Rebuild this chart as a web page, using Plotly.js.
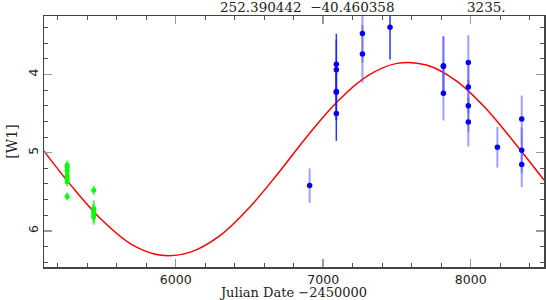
<!DOCTYPE html>
<html>
<head>
<meta charset="utf-8">
<script src="https://cdn.plot.ly/plotly-3.0.1.min.js"></script>
<style>
  html, body { margin: 0; padding: 0; background: #fff; }
  #chart { width: 546px; height: 300px; }
</style>
</head>
<body>
<div id="chart"></div>
<script>
// W1 light curve, ra/dec and period from the header line
const raDec = '252.390442  \u221240.460358';
const period = '3235.';

// early epochs (green)
const greenJd  = [5264, 5264, 5264, 5264, 5264, 5264, 5264, 5444, 5444, 5444, 5444, 5444];
const greenMag = [5.16, 5.19, 5.23, 5.29, 5.33, 5.37, 5.56, 5.48, 5.71, 5.75, 5.79, 5.82];
const greenErr = [0.06, 0.06, 0.06, 0.06, 0.06, 0.06, 0.05, 0.06, 0.10, 0.10, 0.10, 0.10];

// later epochs, darker error bars
const darkJd  = [7089, 7089, 7089, 7089, 7089, 7453];
const darkMag = [3.87, 3.94, 4.22, 4.23, 4.50, 3.40];
const darkErr = [0.39, 0.38, 0.36, 0.36, 0.35, 0.41];

// later epochs, lighter error bars
const lightJd  = [6908, 7266, 7266, 7815, 7815, 7815, 7984, 7984, 7984, 7984, 8181, 8346, 8346, 8346];
const lightMag = [5.42, 3.48, 3.74, 3.89, 3.90, 4.24, 3.85, 4.16, 4.40, 4.61, 4.93, 4.57, 4.97, 5.15];
const lightErr = [0.22, 0.37, 0.37, 0.38, 0.38, 0.35, 0.35, 0.33, 0.33, 0.31, 0.26, 0.30, 0.29, 0.29];

// fitted curve
const fitJd  = [5107, 5300, 5500, 5700, 5900, 6100, 6300, 6500, 6700, 6900, 7100, 7300, 7500, 7700, 7900, 8100, 8300, 8497];
const fitMag = [4.98, 5.44, 5.86, 6.17, 6.31, 6.27, 6.06, 5.70, 5.25, 4.77, 4.34, 4.02, 3.86, 3.88, 4.08, 4.43, 4.88, 5.35];

const serif = 'DejaVu Serif, Liberation Serif, serif';
const sans = 'DejaVu Sans, Liberation Sans, sans-serif';

function errBars(arr, color, thick) {
    return { type: 'data', array: arr, visible: true, color: color, thickness: thick, width: 0 };
}

const data = [
    {
        x: fitJd, y: fitMag, mode: 'lines',
        line: { color: '#ff0000', width: 1.5, shape: 'spline', smoothing: 1 },
        hoverinfo: 'skip'
    },
    {
        x: greenJd, y: greenMag, mode: 'markers',
        marker: { color: '#00ff00', size: 5 },
        error_y: errBars(greenErr, 'rgba(0,230,0,0.6)', 2)
    },
    {
        x: lightJd, y: lightMag, mode: 'markers',
        marker: { color: '#0000ff', size: 5.5 },
        error_y: errBars(lightErr, 'rgba(80,80,255,0.55)', 2)
    },
    {
        x: darkJd, y: darkMag, mode: 'markers',
        marker: { color: '#0000ff', size: 5.5 },
        error_y: errBars(darkErr, 'rgba(30,30,255,0.9)', 1.5)
    }
];

const axisCommon = {
    showgrid: false,
    zeroline: false,
    showline: true,
    linecolor: '#444',
    linewidth: 1.5,
    mirror: 'ticks',
    ticks: 'inside',
    ticklen: 8,
    tickcolor: '#999',
    tickwidth: 1.5,
    tickfont: { family: sans, size: 12.5, color: '#222' }
};

const layout = {
    width: 546,
    height: 300,
    margin: { l: 44, r: 2, t: 16, b: 33 },
    paper_bgcolor: '#fff',
    plot_bgcolor: '#fff',
    showlegend: false,
    xaxis: Object.assign({}, axisCommon, {
        range: [5107, 8497],
        tick0: 6000,
        dtick: 1000,
        minor: { dtick: 200, ticks: 'inside', ticklen: 4, tickcolor: '#555', tickwidth: 1 },
        title: { text: 'Julian Date \u22122450000', font: { family: serif, size: 13, color: '#222' }, standoff: 0 }
    }),
    yaxis: Object.assign({}, axisCommon, {
        range: [6.46, 3.255],
        tick0: 4,
        dtick: 1,
        tickangle: -90,
        minor: { dtick: 0.2, ticks: 'inside', ticklen: 4, tickcolor: '#555', tickwidth: 1 },
        title: { text: '[W1]', font: { family: serif, size: 14, color: '#222' }, standoff: 4 }
    }),
    annotations: [
        {
            text: raDec, xref: 'paper', yref: 'paper', x: 0.705, y: 1.0637, yshift: 3,
            xanchor: 'right', yanchor: 'top', showarrow: false,
            font: { family: serif, size: 13.5, color: '#222' }
        },
        {
            text: period, xref: 'paper', yref: 'paper', x: 0.928, y: 1.0637, yshift: 3,
            xanchor: 'right', yanchor: 'top', showarrow: false,
            font: { family: serif, size: 13.5, color: '#222' }
        }
    ]
};

Plotly.newPlot('chart', data, layout, { displayModeBar: false, staticPlot: true });
</script>
</body>
</html>
